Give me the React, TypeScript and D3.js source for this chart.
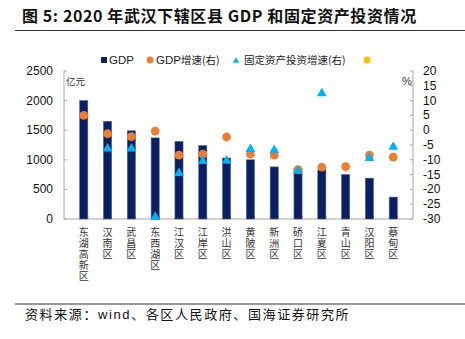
import React from "react";
import * as d3 from "d3";

const categories = ["东湖高新区", "汉南区", "武昌区", "东西湖区", "江汉区", "江岸区", "洪山区", "黄陂区", "新洲区", "硚口区", "江夏区", "青山区", "汉阳区", "蔡甸区"];
const gdp = [2000, 1650, 1490, 1370, 1310, 1240, 1030, 1000, 880, 850, 830, 750, 690, 370];
const gdpGrowth = [5.0, -1.2, -2.2, -0.3, -8.4, -8.1, -2.3, -8.1, -8.4, -13.3, -12.5, -12.3, -8.4, -9.1];
const invGrowth: (number | null)[] = [null, -5.9, -5.9, -29, -14.2, -10.1, -10.0, -6.1, -6.4, -13.4, 12.8, null, -9.1, -5.3];
const leftTicks = [0, 500, 1000, 1500, 2000, 2500];
const rightTicks = [20, 15, 10, 5, 0, -5, -10, -15, -20, -25, -30];

const W = 465;
const H = 339;
const X0 = 64;
const X1 = 413;
const YTOP = 71;
const YBOT = 219;

export default function App() {
  const x = d3.scaleBand<string>().domain(categories).range([X0, X1]).padding(0.66);
  const yL = d3.scaleLinear().domain([0, 2500]).range([YBOT, YTOP]);
  const yR = d3.scaleLinear().domain([-30, 20]).range([YBOT, YTOP]);
  const step = x.step();
  const bw = x.bandwidth();
  const axisColor = "#A6A6A6";
  const font = "Arial, 'Liberation Sans', 'Noto Sans CJK SC', sans-serif";
  const cjk = "'Noto Sans CJK SC', sans-serif";
  const tri = d3.symbol().type(d3.symbolTriangle).size(42)()!;

  return (
    <svg width={W} height={H} style={{ position: "absolute", left: 0, top: 0, background: "#fff" }}>
      {/* Title */}
      <text x={22} y={22} fontSize={16} fontWeight="bold" fill="#111" fontFamily={cjk} letterSpacing={0.6}>
        图 5:  2020 年武汉下辖区县 GDP 和固定资产投资情况
      </text>
      <line x1={15} x2={465} y1={30.5} y2={30.5} stroke="#333" strokeWidth={1} />

      {/* Legend */}
      <g fontFamily={font} fontSize={11.5} fill="#222">
        <rect x={101} y={57} width={6} height={6} fill="#0A2062" />
        <text x={109} y={64}>GDP</text>
        <circle cx={150} cy={60} r={3.5} fill="#ED7D31" />
        <text x={156} y={64}>GDP<tspan fontFamily={cjk} fontSize={10.5}>增速(右)</tspan></text>
        <path d={d3.symbol().type(d3.symbolTriangle).size(18)()!} transform="translate(236,61)" fill="#00B0F0" />
        <text x={244} y={64} fontFamily={cjk} fontSize={10.5}>固定资产投资增速(右)</text>
        <circle cx={367} cy={60} r={3.5} fill="#FFC000" />
      </g>

      {/* Axes */}
      <g stroke={axisColor} strokeWidth={1}>
        <line x1={X0} x2={X0} y1={YTOP} y2={YBOT} />
        <line x1={X1} x2={X1} y1={YTOP} y2={YBOT} />
        <line x1={X0} x2={X1} y1={YBOT} y2={YBOT} />
        {leftTicks.map((t) => (
          <line key={"lt" + t} x1={X0} x2={X0 + 3} y1={yL(t)} y2={yL(t)} />
        ))}
        {rightTicks.map((t) => (
          <line key={"rt" + t} x1={X1 - 3} x2={X1} y1={yR(t)} y2={yR(t)} />
        ))}
        {categories.map((c, i) => (
          <line key={"xt" + i} x1={X0 + step * (i + 1)} x2={X0 + step * (i + 1)} y1={YBOT - 3} y2={YBOT} />
        ))}
      </g>

      <g fontFamily={font} fontSize={12} fill="#111">
        {leftTicks.map((t) => (
          <text key={"ll" + t} x={53} y={yL(t) + 4} textAnchor="end">{t}</text>
        ))}
        {rightTicks.map((t) => (
          <text key={"rl" + t} x={423} y={yR(t) + 4}>{t}</text>
        ))}
      </g>
      <text x={66} y={85} fontFamily={cjk} fontSize={9.5} fill="#333">亿元</text>
      <text x={402} y={85} fontFamily={font} fontSize={11} fill="#333">%</text>

      {/* Bars */}
      {categories.map((c, i) => (
        <rect key={"b" + i} x={x(c)!} y={yL(gdp[i])} width={bw} height={YBOT - yL(gdp[i])}
          fill="#0A2062" stroke="#4A5F96" strokeWidth={0.6} />
      ))}

      {/* GDP growth */}
      {categories.map((c, i) => (
        <circle key={"g" + i} cx={x(c)! + bw / 2} cy={yR(gdpGrowth[i])} r={4.4} fill="#ED7D31" />
      ))}

      {/* Investment growth */}
      {categories.map((c, i) =>
        invGrowth[i] === null ? null : (
          <path key={"t" + i} d={tri} transform={`translate(${x(c)! + bw / 2},${yR(invGrowth[i] as number) + 1})`} fill="#00B0F0" />
        )
      )}

      {/* Category labels (vertical) */}
      <g fontFamily={cjk} fontSize={10} fill="#333">
        {categories.map((c, i) => (
          <text key={"c" + i} x={x(c)! + bw / 2} y={227} letterSpacing={1}
            style={{ writingMode: "vertical-rl" as any }}>{c}</text>
        ))}
      </g>

      {/* Footer */}
      <line x1={15} x2={465} y1={304} y2={304} stroke="#333" strokeWidth={1} />
      <text x={25} y={319} fontFamily={cjk} fontSize={13} fill="#111" letterSpacing={1.6}>资料来源：<tspan fontFamily={font}>wind</tspan>、各区人民政府、国海证券研究所</text>
    </svg>
  );
}
